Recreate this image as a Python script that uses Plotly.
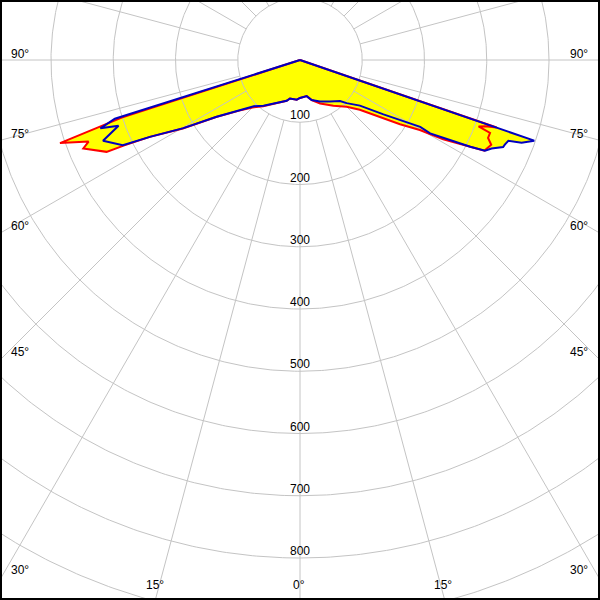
import numpy as np
import plotly.graph_objects as go

# ---- data: polar luminous intensity curves (angle in degrees, negative = left half) ----
red_gamma = [-90, -72.1, -70.9, -68.9, -67.8, -64.6, -64.1, -62.9, -59.7, -55.8, -50.2, -45.0,
             -38.6, -28.3, -18.1, -14.6, -4.7, 0, 10.5, 16.3, 24.8, 36.1, 45.0, 50.2, 55.0,
             57.3, 59.7, 61.0, 63.0, 63.8, 66.1, 67.5, 69.0, 69.3, 69.6, 70.3, 71.05, 90]
red_cd = [0, 301, 408, 364, 376, 344, 315, 271, 218, 163, 127, 108,
          95, 79, 69, 64, 64, 61, 59, 67, 77, 91, 106, 125, 163,
          191, 223, 263, 307, 330, 336, 327, 327, 312, 306, 316, 334, 0]

blue_gamma = [-90, -72.4, -71.1, -70.1, -67.7, -64.3, -62.9, -59.7, -55.8, -50.2, -45.0, -38.6,
              -28.3, -18.1, -14.6, -4.7, 0, 10.5, 16.3, 25.6, 35.7, 44.3, 47.2, 52.7, 56.9,
              59.0, 60.9, 60.6, 61.35, 61.9, 63.0, 63.9, 65.2, 66.8, 67.55, 68.8, 69.5, 71.0, 90]
blue_cd = [0, 312, 339, 310, 342, 316, 271, 217, 162, 124, 105, 94,
           79, 69, 64, 64, 61, 59, 67, 74, 82, 92, 102, 121, 160,
           187, 221, 240, 262, 273, 307, 331, 339, 355, 356, 359, 380, 398, 0]

ring_values = [100, 200, 300, 400, 500, 600, 700, 800, 900, 1000]
ring_labels = [100, 200, 300, 400, 500, 600, 700, 800]
spoke_angles = list(range(0, 360, 15))
side_angle_labels = [90, 75, 60, 45, 30]
bottom_angle_labels = [-15, 0, 15]

# ---- geometry / style ----
PX_PER_UNIT = 0.6225
W = H = 600
M = 2
CX, CY = 300, 60
GRID = "#c4c4c4"
FONT = dict(family="Liberation Sans, Arial, sans-serif", size=12, color="black")

x_range = [-(CX - M) / PX_PER_UNIT, (W - M - CX) / PX_PER_UNIT]
y_range = [-(H - M - CY) / PX_PER_UNIT, (CY - M) / PX_PER_UNIT]


def to_xy(g, r):
    g = np.radians(np.asarray(g, float))
    r = np.asarray(r, float)
    return r * np.sin(g), -r * np.cos(g)


rx, ry = to_xy(red_gamma, red_cd)
bx, by = to_xy(blue_gamma, blue_cd)

# grid
gx, gy = [], []
t = np.linspace(0, 360, 721)
for v in ring_values:
    x, y = to_xy(t, np.full_like(t, v))
    gx += list(x) + [None]
    gy += list(y) + [None]
for a in spoke_angles:
    x, y = to_xy([a, a], [ring_values[0], 1200])
    gx += list(x) + [None]
    gy += list(y) + [None]

fig = go.Figure()
fig.add_trace(go.Scatter(x=rx, y=ry, mode="lines", fill="toself", fillcolor="#ffff00",
                         line=dict(width=0, color="#ffff00"), hoverinfo="skip"))
fig.add_trace(go.Scatter(x=bx, y=by, mode="lines", fill="toself", fillcolor="#ffff00",
                         line=dict(width=0, color="#ffff00"), hoverinfo="skip"))
fig.add_trace(go.Scatter(x=gx, y=gy, mode="lines", line=dict(width=1, color=GRID),
                         hoverinfo="skip"))
fig.add_trace(go.Scatter(x=rx, y=ry, mode="lines", line=dict(width=2, color="#ff0000"),
                         name="C0-C180"))
fig.add_trace(go.Scatter(x=bx, y=by, mode="lines", line=dict(width=2, color="#0000c0"),
                         name="C90-C270"))

ann = []
for v in ring_labels:
    ann.append(dict(x=0, y=-v, xref="x", yref="y", text=str(v), showarrow=False,
                    yshift=7, font=FONT))
for a in side_angle_labels:
    yv = x_range[0] / np.tan(np.radians(a)) if a != 90 else 0
    ann.append(dict(x=0, y=yv, xref="paper", yref="y", text=f"{a}°", showarrow=False,
                    xanchor="left", xshift=7, yshift=6, font=FONT))
    ann.append(dict(x=1, y=yv, xref="paper", yref="y", text=f"{a}°", showarrow=False,
                    xanchor="right", xshift=-8, yshift=6, font=FONT))
for a in bottom_angle_labels:
    xv = -y_range[0] * np.tan(np.radians(a))
    ann.append(dict(x=xv, y=0, xref="x", yref="paper", text=f"{abs(a)}°", showarrow=False,
                    yanchor="bottom", yshift=4, xshift=-1, font=FONT))

fig.update_layout(
    width=W, height=H,
    margin=dict(l=M, r=M, t=M, b=M),
    paper_bgcolor="black", plot_bgcolor="white",
    showlegend=False,
    xaxis=dict(range=x_range, visible=False, fixedrange=True),
    yaxis=dict(range=y_range, visible=False, fixedrange=True),
    annotations=ann,
)

fig.write_html("out.html", config={"displayModeBar": False},
               post_script="document.body.style.margin='0';document.body.style.overflow='hidden';")
